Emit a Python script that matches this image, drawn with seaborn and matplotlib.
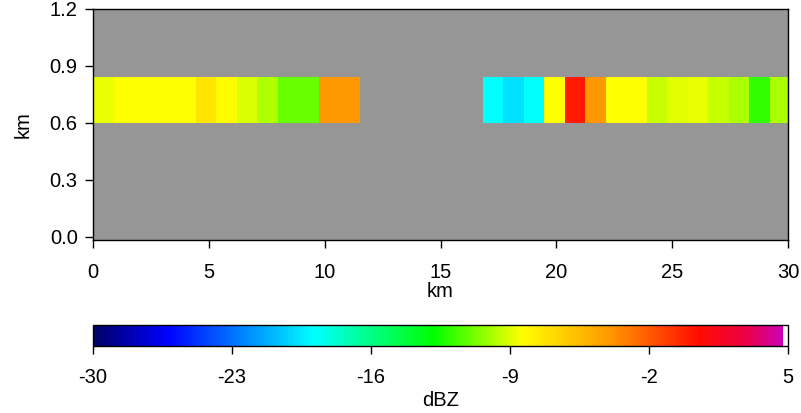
import numpy as np
import matplotlib
matplotlib.use("Agg")
import matplotlib.pyplot as plt
import seaborn as sns
from matplotlib.colors import LinearSegmentedColormap, Normalize

# ---- data ----
cell_width_km = 0.885
# reflectivity (dBZ) per range cell along x; NaN = no echo
left_band = [-8.8, -8.4, -8.4, -8.4, -8.4, -7.3, -8.3, -9.07, -9.8, -11.0, -11.0, -4.0, -4.0]
gap = [np.nan] * 6
right_band = [-18.9, -19.8, -18.9, -8.4, 0.05, -4.0, -8.4, -8.4, -9.4, -8.9, -8.8, -9.4, -9.9, -12.0, -9.9]
dbz = left_band + gap + right_band
layer_bottom_km = 0.6
layer_top_km = 0.84
cbar_ticks = [-30, -23, -16, -9, -2, 5]
vmin, vmax = -30, 5

# colormap nodes (dBZ, color)
cmap_values = [-30, -26.3, -18.9, -12.85, -8.4, -4.0, 0.5, 2.8, 4.75, 4.78, 5]
cmap_colors = [(0, 0, 0.4), (0, 0, 1), (0, 1, 1), (0, 1, 0), (1, 1, 0),
               (1, 0.6, 0), (1, 0.05, 0), (0.93, 0, 0.25), (0.8, 0, 0.72), (1, 1, 1), (1, 1, 1)]

# ---- style ----
sns.set_theme(style="ticks")
plt.rcParams['font.family'] = ['Liberation Sans', 'DejaVu Sans']
plt.rcParams['axes.edgecolor'] = 'black'
plt.rcParams['axes.labelcolor'] = 'black'
plt.rcParams['text.color'] = 'black'
plt.rcParams['xtick.color'] = 'black'
plt.rcParams['ytick.color'] = 'black'
plt.rcParams['xtick.labelcolor'] = 'black'
plt.rcParams['ytick.labelcolor'] = 'black'
FS = 14.5

cmap = LinearSegmentedColormap.from_list(
    "dbz", [((v - vmin) / (vmax - vmin), c) for v, c in zip(cmap_values, cmap_colors)], N=512)
norm = Normalize(vmin=vmin, vmax=vmax)

W, H = 801, 413
fig = plt.figure(figsize=(W / 100, H / 100), dpi=100)
ax = fig.add_axes([93 / W, 1 - 240 / H, (788 - 93) / W, (240 - 9) / H])
cax = fig.add_axes([93 / W, 1 - 346 / H, (788 - 93) / W, (346 - 325) / H])

ax.set_facecolor((150 / 255, 150 / 255, 150 / 255))
x_edges = np.arange(len(dbz) + 1) * cell_width_km
y_edges = np.array([layer_bottom_km, layer_top_km])
Z = np.ma.masked_invalid(np.array(dbz, dtype=float)[None, :])
mesh = ax.pcolormesh(x_edges, y_edges, Z, cmap=cmap, norm=norm, shading="flat")

ax.set_xlim(0, 30)
ax.set_ylim(-0.016, 1.2)
ax.set_xticks([0, 5, 10, 15, 20, 25, 30])
ax.set_yticks([0.0, 0.3, 0.6, 0.9, 1.2])
ax.set_yticklabels(["0.0", "0.3", "0.6", "0.9", "1.2"])
ax.tick_params(axis="both", labelsize=FS, length=6, width=1, direction="out",
               colors="black", labelcolor="black")
ax.tick_params(axis="x", pad=10.5)
ax.tick_params(axis="y", pad=5)
ax.set_xlabel("km", fontsize=FS, labelpad=0, color="black")
ax.set_ylabel("km", fontsize=FS, labelpad=12, color="black")
for s in ax.spines.values():
    s.set_linewidth(1)
    s.set_color("black")

cb = fig.colorbar(mesh, cax=cax, orientation="horizontal", ticks=cbar_ticks)
cb.outline.set_linewidth(1)
cb.outline.set_edgecolor("black")
cax.tick_params(labelsize=FS, length=6, width=1, pad=9.5, colors="black", labelcolor="black")
cax.set_xticklabels([str(t) for t in cbar_ticks])
cb.set_label("dBZ", fontsize=FS, labelpad=3, color="black")

fig.savefig("out.png", dpi=100)
